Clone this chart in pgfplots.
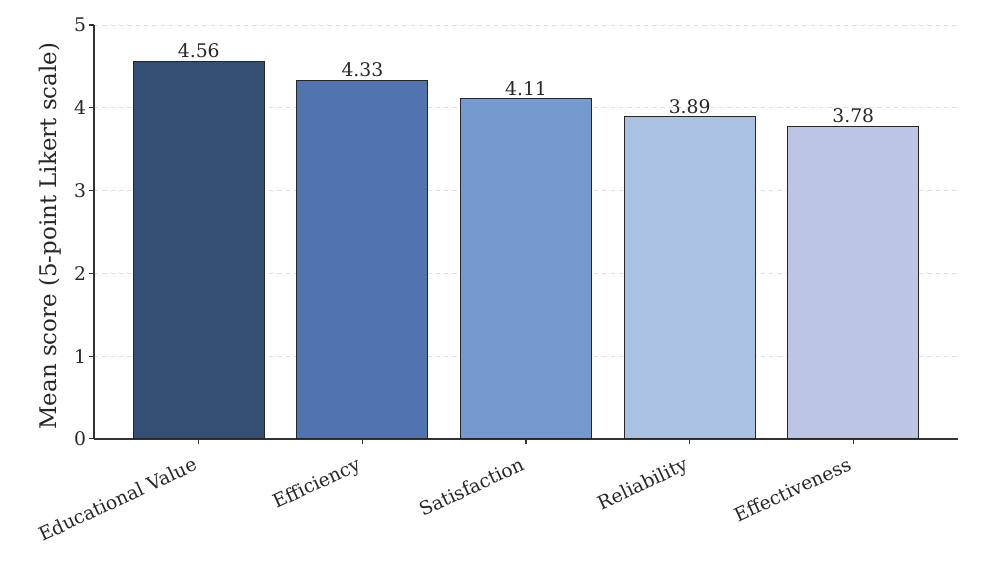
\documentclass[border=0pt]{standalone}
\usepackage{pgfplots}
\pgfplotsset{compat=1.18}
\usepackage{fontspec}
\setmainfont{DejaVu Serif}
\definecolor{c1}{RGB}{52,78,116}
\definecolor{c2}{RGB}{81,116,176}
\definecolor{c3}{RGB}{117,154,208}
\definecolor{c4}{RGB}{170,193,228}
\definecolor{c5}{RGB}{188,198,228}
\definecolor{txt}{RGB}{38,38,38}
\definecolor{axc}{RGB}{51,51,51}
\begin{document}
\begin{tikzpicture}
\useasboundingbox (-67.7pt,-90pt) rectangle (642.9pt,316pt);
\begin{axis}[
  at={(0,0)}, anchor=south west,
  scale only axis, width=622pt, height=298pt,
  xmin=-0.64, xmax=4.64, ymin=0, ymax=5,
  axis x line*=bottom, axis y line*=left,
  axis line style={axc, line width=0.9pt, -},
  xtick={0,1,2,3,4},
  xticklabels={Educational Value, Efficiency, Satisfaction, Reliability, Effectiveness},
  ytick={0,1,2,3,4,5},
  tick align=outside, major tick length=3.5pt,
  tick style={axc, line width=0.8pt},
  x tick label style={rotate=25, anchor=north east, font=\fontsize{13.5}{15}\selectfont, text=txt, inner sep=2pt, xshift=-6pt, yshift=-4pt},
  y tick label style={font=\fontsize{13.5}{15}\selectfont, text=txt, inner sep=2pt},
  /pgf/number format/assume math mode=true,
  ymajorgrids, grid style={dashed, black!12, line width=0.5pt},
  ylabel={Mean score (5-point Likert scale)},
  ylabel style={font=\fontsize{16.5}{19}\selectfont, text=txt, yshift=4pt, xshift=-3pt},
  ybar, bar width=0.8, bar shift=0pt,
  nodes near coords,
  every node near coord/.append style={font=\fontsize{13.5}{15}\selectfont, text=txt, /pgf/number format/fixed, /pgf/number format/precision=2, /pgf/number format/fixed zerofill, inner sep=2pt},
]
\addplot[fill=c1, draw=black!85, line width=0.7pt] coordinates {(0,4.56)};
\addplot[fill=c2, draw=black!85, line width=0.7pt] coordinates {(1,4.33)};
\addplot[fill=c3, draw=black!85, line width=0.7pt] coordinates {(2,4.11)};
\addplot[fill=c4, draw=black!85, line width=0.7pt] coordinates {(3,3.89)};
\addplot[fill=c5, draw=black!85, line width=0.7pt] coordinates {(4,3.78)};
\end{axis}
\end{tikzpicture}
\end{document}
